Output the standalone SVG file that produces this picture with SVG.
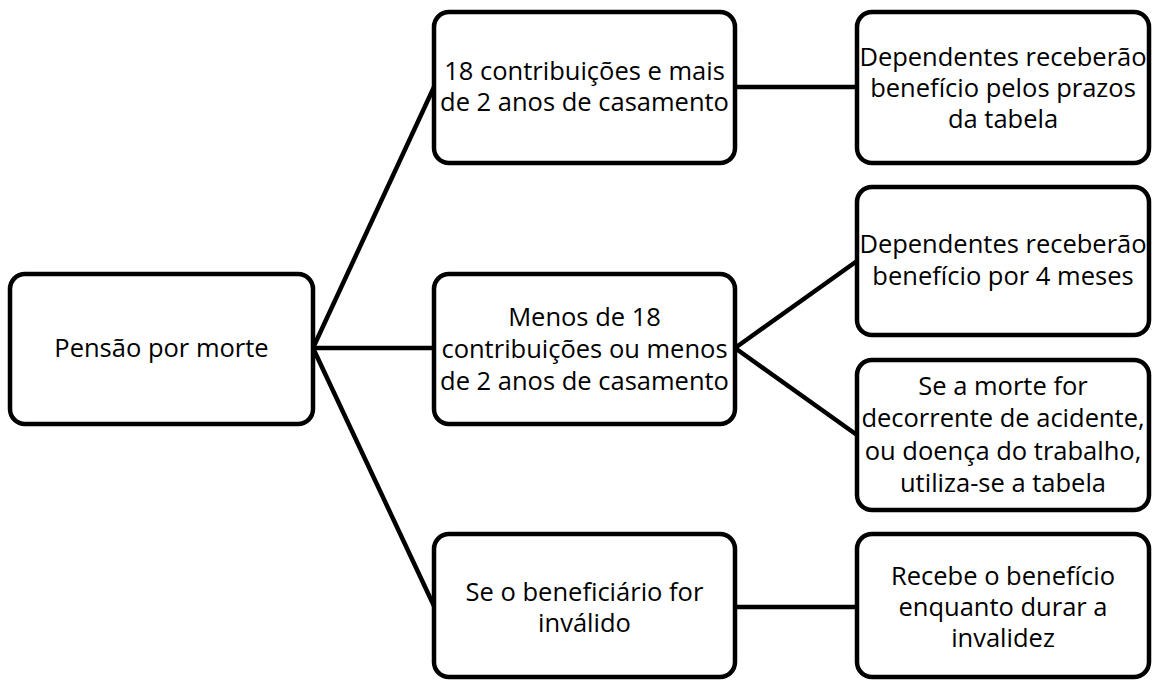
<svg xmlns="http://www.w3.org/2000/svg" width="1153" height="681" viewBox="0 0 1153 681">
<style>
.box{fill:#fff;stroke:#000;stroke-width:4.5}
.t{font-family:"Open Sans","Liberation Sans",sans-serif;font-size:25.5px;fill:#000;text-anchor:middle}
.c{stroke:#000;stroke-width:4.5;fill:none}
</style>
<rect width="1153" height="681" fill="#fff"/>
<g id="connectors">
<line class="c" x1="313" y1="348" x2="434" y2="87"/>
<line class="c" x1="313" y1="348" x2="434" y2="348"/>
<line class="c" x1="313" y1="348" x2="434" y2="606"/>
<line class="c" x1="735" y1="87" x2="857" y2="87"/>
<line class="c" x1="735" y1="348" x2="857" y2="261"/>
<line class="c" x1="735" y1="348" x2="857" y2="435"/>
<line class="c" x1="735" y1="607" x2="857" y2="607"/>
</g>
<g id="root">
<rect class="box" x="10" y="274" width="303" height="150" rx="15"/>
<text class="t" x="161.5" y="357">Pensão por morte</text>
</g>
<g id="m1">
<rect class="box" x="434" y="12" width="301" height="151" rx="15"/>
<text class="t" x="584.5" y="80">18 contribuições e mais</text>
<text class="t" x="584.5" y="111">de 2 anos de casamento</text>
</g>
<g id="m2">
<rect class="box" x="434" y="274" width="301" height="150" rx="15"/>
<text class="t" x="584.5" y="326">Menos de 18</text>
<text class="t" x="584.5" y="358">contribuições ou menos</text>
<text class="t" x="584.5" y="390">de 2 anos de casamento</text>
</g>
<g id="m3">
<rect class="box" x="434" y="534" width="301" height="143" rx="15"/>
<text class="t" x="584.5" y="601">Se o beneficiário for</text>
<text class="t" x="584.5" y="632">inválido</text>
</g>
<g id="r1">
<rect class="box" x="857" y="12" width="292" height="151" rx="15"/>
<text class="t" x="1003" y="66">Dependentes receberão</text>
<text class="t" x="1003" y="97">benefício pelos prazos</text>
<text class="t" x="1003" y="128">da tabela</text>
</g>
<g id="r2">
<rect class="box" x="857" y="187" width="292" height="148" rx="15"/>
<text class="t" x="1003" y="253">Dependentes receberão</text>
<text class="t" x="1003" y="285">benefício por 4 meses</text>
</g>
<g id="r3">
<rect class="box" x="857" y="360" width="292" height="150" rx="15"/>
<text class="t" x="1003" y="395">Se a morte for</text>
<text class="t" x="1003" y="427">decorrente de acidente,</text>
<text class="t" x="1003" y="460">ou doença do trabalho,</text>
<text class="t" x="1003" y="492">utiliza-se a tabela</text>
</g>
<g id="r4">
<rect class="box" x="857" y="534" width="292" height="143" rx="15"/>
<text class="t" x="1003" y="585">Recebe o benefício</text>
<text class="t" x="1003" y="616">enquanto durar a</text>
<text class="t" x="1003" y="647">invalidez</text>
</g>
</svg>
